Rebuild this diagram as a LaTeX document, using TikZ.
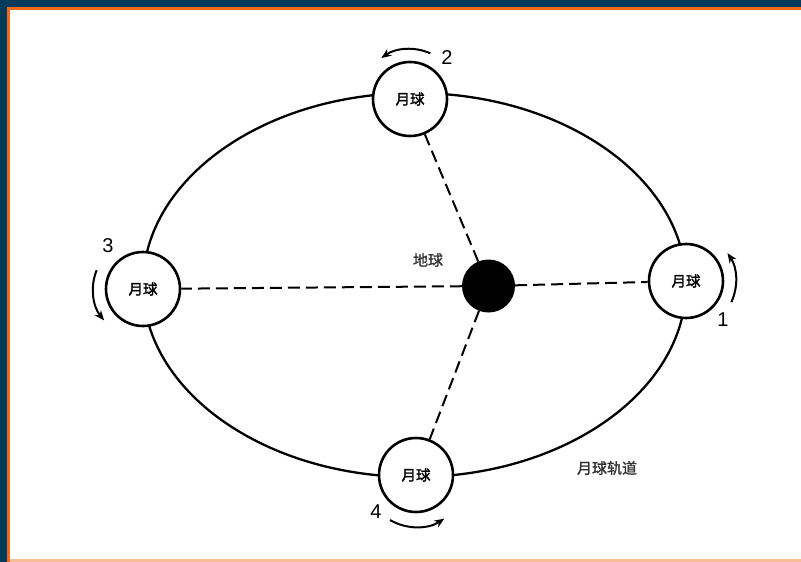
\documentclass[tikz,border=0pt]{standalone}
\usepackage{fontspec}
\newfontfamily\cjk{Noto Sans CJK SC}[FakeBold=1.2]
\newfontfamily\cjkb{Noto Sans CJK SC}[FakeBold=1.8]
\setmainfont{Liberation Sans}
\usetikzlibrary{arrows.meta,calc}
\definecolor{frameblue}{HTML}{023B5C}
\definecolor{frameorange}{HTML}{F26A1B}
\tikzset{
  moon/.style={circle, draw, line width=2.6pt, fill=white, minimum size=74pt, inner sep=0pt, font=\cjkb\fontsize{14.5}{14.5}\selectfont},
  earth/.style={circle, fill=black, minimum size=53pt, inner sep=0pt},
  dashline/.style={line width=2pt, dash pattern=on 12pt off 6pt},
  orbit/.style={line width=2.3pt},
  spin/.style={line width=2pt, -{Stealth[length=10pt,width=8pt]}},
  num/.style={font=\fontsize{20}{20}\selectfont},
  lab/.style={font=\cjk\fontsize{15}{15}\selectfont, text=black!80}
}
\begin{document}
\begin{tikzpicture}[x=1pt,y=-1pt]
\useasboundingbox (0,0) rectangle (801,562);
\fill[frameblue] (0,0) rectangle (801,562);
\fill[frameorange] (7,7) rectangle (801,562);
\fill[white] (10,10) rectangle (801,559);
\fill[frameorange!45] (10,559) rectangle (801,562);
% orbit
\draw[orbit] (414.5,285) ellipse [x radius=271.5pt, y radius=192pt];
% earth
\node[earth] (earth) at (488.5,286) {};
% moons
\node[moon] (m1) at (686,281) {月球};
\node[moon] (m2) at (410,99) {月球};
\node[moon] (m3) at (143,289) {月球};
\node[moon] (m4) at (416,475) {月球};
% dashed lines
\draw[dashline] (earth) -- (m1);
\draw[dashline] (earth) -- (m2);
\draw[dashline] (earth) -- (m3);
\draw[dashline] (earth) -- (m4);
% rotation arrows
\draw[spin] ($(m1)+(-25:50pt)$) arc[start angle=-25, end angle=34, radius=50pt];
\draw[spin] ($(m2)+(66:50pt)$) arc[start angle=66, end angle=125, radius=50pt];
\draw[spin] ($(m3)+(158:50pt)$) arc[start angle=158, end angle=219, radius=50pt];
\draw[spin] ($(m4)+(240:52pt)$) arc[start angle=240, end angle=303, radius=52pt];
% numbers
\node[num] (n1) at (723,320) {1};
\node[num] (n2) at (447,58) {2};
\node[num] (n3) at (108,246) {3};
\node[num] (n4) at (376,512) {4};
% labels
\node[lab] (el) at (428,260) {地球};
\node[lab] (ol) at (607,468) {月球轨道};
\end{tikzpicture}
\end{document}
